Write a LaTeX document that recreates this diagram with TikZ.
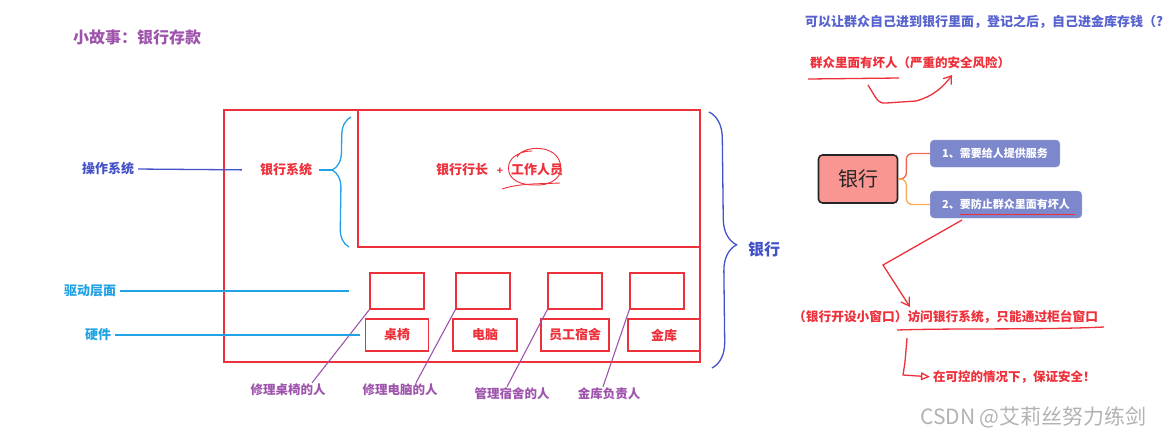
\documentclass[tikz,border=0pt]{standalone}
\usepackage{fontspec}
\setmainfont{Noto Sans CJK SC}
\usetikzlibrary{positioning,decorations.pathreplacing,arrows.meta}

\definecolor{bankred}{RGB}{237,48,58}
\definecolor{storypurple}{RGB}{158,84,172}
\definecolor{osblue}{RGB}{68,82,200}
\definecolor{drvcyan}{RGB}{32,162,228}
\definecolor{leafblue}{RGB}{124,135,204}
\definecolor{rootpink}{RGB}{250,150,145}
\definecolor{branchred}{RGB}{240,104,84}
\definecolor{branchorange}{RGB}{250,172,92}

\newcommand\pxfont[1]{\fontsize{#1}{#1}\selectfont}

\tikzset{
  redpen/.style={draw=bankred, line width=1.3pt},
  redtext/.style={text=bankred, font=\pxfont{13}\bfseries, inner sep=1pt},
  drvbox/.style={draw=bankred, line width=1.4pt, minimum width=54pt, minimum height=36pt, inner sep=0pt},
  hwbox/.style={draw=bankred, line width=1.4pt, minimum height=32pt, inner sep=0pt, text=bankred, font=\pxfont{13}\bfseries},
  person/.style={text=storypurple, font=\pxfont{12.5}\bfseries, inner sep=1pt},
  personline/.style={draw=storypurple, line width=1.1pt},
  layer/.style={font=\pxfont{13}\bfseries, inner sep=1pt},
  rootnode/.style={draw=black!85, line width=1.6pt, fill=rootpink, rounded corners=4pt, minimum width=79pt, minimum height=48pt, text=black!85, font=\pxfont{20}},
  leaf/.style={draw=leafblue!80!white, fill=leafblue, rounded corners=4pt, minimum height=27pt, inner xsep=12pt, text=white, font=\pxfont{11}\bfseries},
  csdnmark/.style={text=black!30, font=\pxfont{21}, inner sep=0pt}
}

\begin{document}
\begin{tikzpicture}[x=1pt, y=-1pt]
  \useasboundingbox (0,0) rectangle (1166,437);

  % title
  \node[text=storypurple, font=\pxfont{16}\bfseries] (story) at (137,37) {小故事：银行存款};

  % bank building
  \draw[bankred, line width=1.4pt] (224,110) rectangle (700,362);
  \draw[bankred, line width=1.4pt] (358,110) rectangle (700,247);

  % bank system (inside the top box)
  \node[redtext] (bankos) at (286,170) {银行系统};
  \node[redtext] (boss) at (462,170) {银行行长};
  \node[text=bankred, font=\pxfont{10}\bfseries] (plus) at (500,171) {+};
  \node[redtext] (staff) at (537,170) {工作人员};
  % scribble round the staff
  \draw[bankred, line width=0.9pt] (517,157) .. controls (522,146) and (552,144) .. (559,160)
    .. controls (566,176) and (552,186) .. (535,185) .. controls (515,185) and (506,176) .. (509,164)
    .. controls (511,157) and (520,151) .. (532,151);
  \draw[bankred, line width=0.9pt] (502,189) .. controls (520,183) and (540,184) .. (560,183);

  % cyan brace for the bank system
  \coordinate (ostip) at (332,170);
  \draw[drvcyan, line width=1.3pt, decorate, decoration={brace, amplitude=18pt, aspect=0.59}] (349,247) -- (351,117);
  \draw[drvcyan, line width=1.3pt, shorten <=6pt] (bankos.east) -- (ostip);

  % driver boxes and hardware boxes
  \foreach \i/\x in {1/397, 2/483, 3/575, 4/657}{
      \node[drvbox] (d\i) at (\x,291) {};
    }
  \foreach \i/\x/\w/\txt in {1/397/63/桌椅, 2/485/64/电脑, 3/575/68/员工宿舍, 4/664/72/金库}{
      \node[hwbox, minimum width=\w] (h\i) at (\x,335) {\txt};
    }

  % people in charge
  \foreach \i/\x/\y/\txt/\s in {1/288/390/修理桌椅的人/24, 2/400/390/修理电脑的人/16, 3/512/394/管理宿舍的人/-5, 4/609/394/金库负责人/-6}{
      \node[person] (p\i) at (\x,\y) {\txt};
      \draw[personline] (d\i.south west) -- ([xshift=\s pt]p\i.north);
    }

  % layer labels on the left
  \node[layer, text=osblue] (os) at (108,169) {操作系统};
  \node[layer, text=drvcyan] (drv) at (90,291) {驱动层面};
  \node[layer, text=drvcyan] (hw) at (98,335) {硬件};
  \draw[osblue, line width=1.3pt, shorten <=3pt, shorten >=17pt] (os.east) -- (bankos.west);
  \draw[drvcyan, line width=1.3pt, shorten <=3pt, shorten >=20pt] (drv.east) -- (drv.east -| d1.west);
  \draw[drvcyan, line width=1.3pt, shorten <=3pt, shorten >=5pt] (hw.east) -- (hw.east -| h1.west);

  % big brace: the whole bank
  \draw[osblue, line width=1.3pt, decorate, decoration={brace, amplitude=26pt, aspect=0.52}] (709,112) -- (712,368);
  \node[text=osblue, font=\pxfont{16}\bfseries] (bank) at (764,249) {银行};

  % question at the top right
  \node[text=osblue!90!white, font=\pxfont{13}\bfseries, anchor=west, inner sep=0pt] (ask) at (805,22)
    {可以让群众自己进到银行里面，登记之后，自己进金库存钱（?};
  \node[redtext, font=\pxfont{12.5}\bfseries, anchor=west, inner sep=0pt] (bad) at (810,63)
    {群众里面有坏人（严重的安全风险）};
  \draw[redpen] (808,79) -- (899,78);
  \draw[redpen, -{Straight Barb[length=7pt, width=10pt]}] (868,85) .. controls (876,98) and (878,104) .. (886,103)
    -- (916,101) .. controls (934,96) and (944,86) .. (952,75);

  % mind map
  \node[rootnode] (bankmm) at (858,179) {银行};
  \node[leaf, anchor=west] (m1) at (930,153.5) {1、需要给人提供服务};
  \node[leaf, anchor=west] (m2) at (930,204.5) {2、要防止群众里面有坏人};
  \draw[branchred, line width=1.4pt, rounded corners=6pt] (bankmm.east) -- ++(8,0) |- (m1.west);
  \draw[branchorange, line width=1.4pt, rounded corners=6pt] (bankmm.east) -- ++(8,0) |- (m2.west);
  \draw[bankred, line width=1.1pt] (960,214.5) -- (1075,214.5);

  % the counter window
  \node[redtext, font=\pxfont{12.7}\bfseries, anchor=west, inner sep=0pt] (window) at (793,317)
    {（银行开设小窗口）访问银行系统，只能通过柜台窗口};
  \coordinate (bend) at (883,265);
  \draw[redpen, -{Straight Barb[length=8pt, width=10pt]}] (962,220) -- (bend) -- (910,307);
  \draw[redpen] (897,330) .. controls (960,328) and (1040,330) .. (1104,327);

  % safe in the end
  \node[redtext, font=\pxfont{12.5}\bfseries, anchor=west, inner sep=0pt] (safe) at (933,377)
    {在可控的情况下，保证安全！};
  \coordinate (hook) at (907,338);
  \draw[redpen, -{Triangle[open, length=9pt, width=8pt]}, shorten >=3pt] (hook) -- (905,362) -- (903,375) -- (safe.west);

  % watermark
  \node[csdnmark, anchor=west] (wm) at (920,417) {CSDN @艾莉丝努力练剑};
\end{tikzpicture}
\end{document}
